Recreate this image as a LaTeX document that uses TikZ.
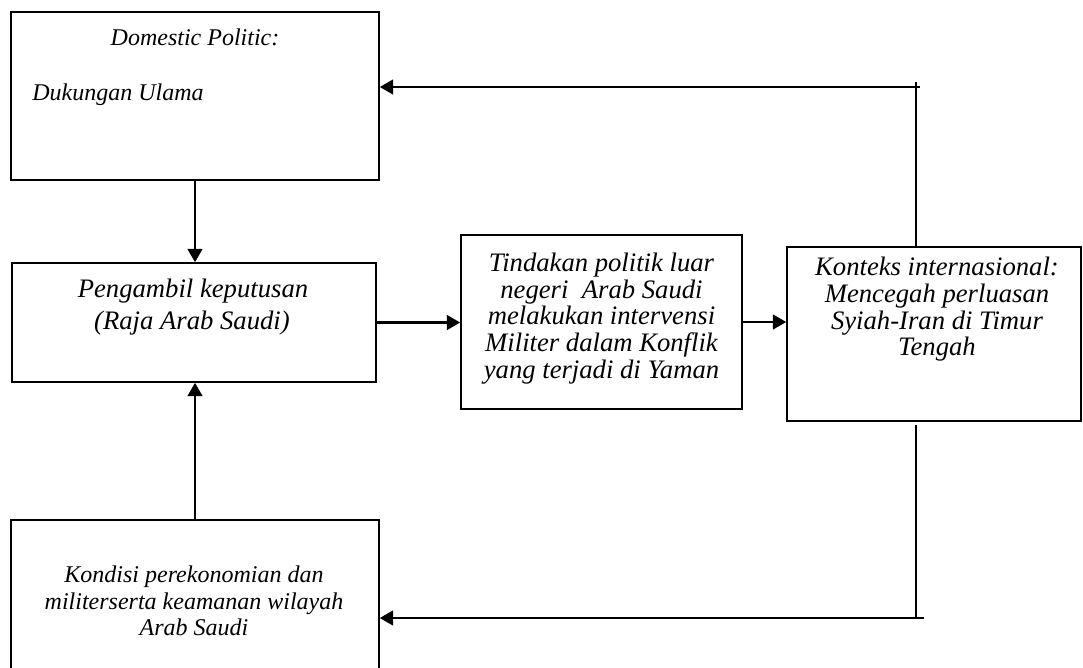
\documentclass[tikz,border=0pt]{standalone}
\usepackage{fontspec}
\setmainfont{Liberation Serif}
\usetikzlibrary{arrows.meta,fit}
\begin{document}
\begin{tikzpicture}[x=0.75pt,y=-0.75pt,
  box/.style={draw,line width=1.2pt,inner sep=0pt},
  txt/.style={font=\itshape\fontsize{18}{20}\selectfont,inner sep=0pt,align=center},
  bigtxt/.style={font=\itshape\fontsize{20}{20}\selectfont,inner sep=0pt,align=center},
  conn/.style={line width=1.8pt},
  arr/.style={line width=1.8pt,-{Triangle[length=10pt,width=11pt]}}]
\useasboundingbox (0,0) rectangle (1083,668);
% boxes
\node[box,fit={(11,12) (379,180)}] (b1) {};
\node[box,fit={(12,263) (376,382)}] (b2) {};
\node[box,fit={(11,520) (379,669)}] (b3) {};
\node[box,fit={(461,235) (742,409)}] (b4) {};
\node[box,fit={(787,247) (1081,421)}] (b5) {};
% texts
\node[txt,anchor=base] (t1a) at (195,45) {Domestic Politic:};
\node[txt,anchor=base west] (t1b) at (32,100) {Dukungan Ulama};
\node[bigtxt,anchor=base] (t2a) at (193,297) {Pengambil keputusan};
\node[bigtxt,anchor=base] (t2b) at (192,329) {(Raja Arab Saudi)};
\node[bigtxt] (t4) at (601.5,318.5) {Tindakan politik luar\\negeri\ \ Arab Saudi\\melakukan intervensi\\Militer dalam Konflik\\yang terjadi di Yaman};
\node[bigtxt] (t5) at (937,309.5) {Konteks internasional:\\Mencegah perluasan\\Syiah-Iran di Timur\\Tengah};
\node[txt] (t3) at (194,601) {Kondisi perekonomian dan\\militerserta keamanan wilayah\\Arab Saudi};
% connectors
\draw[arr] (b1.south) -- (b1.south |- b2.north);
\draw[arr] (b3.north) -- (b3.north |- b2.south);
\draw[arr] (b2.east) -- (b2.east -| b4.west);
\draw[arr] (b4.east) -- (b4.east -| b5.west);
\coordinate (tv) at (916,82);
\coordinate (th) at (920,87);
\coordinate (bv) at (916,425);
\coordinate (bh) at (924,618);
\draw[conn] (tv |- b5.north) -- (tv);
\draw[arr] (th) -- (th -| b1.east);
\draw[conn] (bv) -- (bv |- bh);
\draw[arr] (bh) -- (bh -| b3.east);
\end{tikzpicture}
\end{document}
